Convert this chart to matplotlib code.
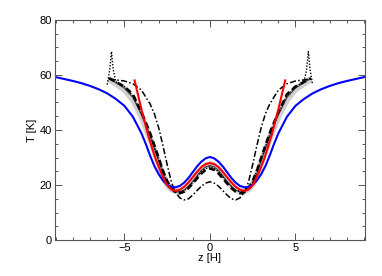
import numpy as np
import matplotlib
matplotlib.use("Agg")
import matplotlib.pyplot as plt
from matplotlib.ticker import MultipleLocator

# blue curve
z_blue = [-9, -8.5, -8, -7.5, -7, -6.5, -6, -5.5, -5, -4.5, -4, -3.75, -3.5, -3.25, -3, -2.75,
          -2.5, -2.25, -2, -1.75, -1.5, -1.25, -1, -0.75, -0.5, -0.25, 0, 0.25, 0.5, 0.75, 1,
          1.25, 1.5, 1.75, 2, 2.25, 2.5, 2.75, 3, 3.25, 3.5, 3.75, 4, 4.5, 5, 5.5, 6, 6.5, 7,
          7.5, 8, 8.5, 9]
T_blue = [59.2, 58.5, 57.8, 57.0, 56.0, 54.8, 53.3, 51.3, 48.8, 44.8, 38.8, 35.0, 30.8, 27.0,
          24.0, 21.7, 20.1, 19.3, 19.2, 19.7, 20.9, 22.6, 24.7, 26.8, 28.5, 29.7, 30.2, 29.7,
          28.5, 26.8, 24.7, 22.6, 20.9, 19.7, 19.2, 19.3, 20.1, 21.7, 24.0, 27.0, 30.8, 35.0,
          38.8, 44.8, 48.8, 51.3, 53.3, 54.8, 56.0, 57.0, 57.8, 58.5, 59.2]

# red curve
z_red = [-4.4, -4.0, -3.6, -3.2, -2.9, -2.6, -2.4, -2.2, -2.0, -1.75, -1.5, -1.25, -1.0, -0.75,
         -0.5, -0.25, 0.0, 0.25, 0.5, 0.75, 1.0, 1.25, 1.5, 1.75, 2.0, 2.2, 2.4, 2.6, 2.9, 3.2,
         3.6, 4.0, 4.4]
T_red = [58.0, 47.5, 38.0, 30.0, 25.2, 21.0, 19.2, 18.2, 17.9, 18.3, 19.4, 21.0, 22.9, 24.8,
         26.5, 27.6, 28.0, 27.6, 26.5, 24.8, 22.9, 21.0, 19.4, 18.3, 17.9, 18.2, 19.2, 21.0,
         25.2, 30.0, 38.0, 47.5, 58.0]

# black / gray curves share one z grid
z_core = [-5.9, -5.5, -5.0, -4.5, -4.0, -3.5, -3.25, -3.0, -2.75, -2.5, -2.25, -2.0, -1.75,
          -1.5, -1.25, -1.0, -0.75, -0.5, -0.25, 0.0, 0.25, 0.5, 0.75, 1.0, 1.25, 1.5, 1.75,
          2.0, 2.25, 2.5, 2.75, 3.0, 3.25, 3.5, 4.0, 4.5, 5.0, 5.5, 5.9]
T_dashed = [58.8, 57.5, 55.8, 53.0, 46.5, 39.0, 34.5, 30.0, 25.3, 21.5, 18.7, 17.3, 17.0,
            17.6, 18.9, 20.6, 22.4, 24.2, 25.5, 26.0, 25.5, 24.2, 22.4, 20.6, 18.9, 17.6, 17.0,
            17.3, 18.7, 21.5, 25.3, 30.0, 34.5, 39.0, 46.5, 53.0, 55.8, 57.5, 58.8]
T_solid = [58.8, 57.2, 55.2, 51.8, 45.5, 37.8, 33.3, 28.8, 24.2, 20.6, 18.5, 17.6, 17.5,
           18.2, 19.6, 21.4, 23.4, 25.3, 26.6, 27.1, 26.6, 25.3, 23.4, 21.4, 19.6, 18.2, 17.5,
           17.6, 18.5, 20.6, 24.2, 28.8, 33.3, 37.8, 45.5, 51.8, 55.2, 57.2, 58.8]
T_gray = [58.5, 56.8, 54.8, 51.0, 45.0, 37.0, 32.6, 28.2, 23.6, 20.2, 18.5, 17.8, 17.8,
          18.5, 19.9, 21.8, 23.8, 25.8, 27.1, 27.6, 27.1, 25.8, 23.8, 21.8, 19.9, 18.5, 17.8,
          17.8, 18.5, 20.2, 23.6, 28.2, 32.6, 37.0, 45.0, 51.0, 54.8, 56.8, 58.5]
T_dashdot = [58.5, 58.2, 57.8, 56.8, 54.5, 49.5, 46.0, 41.0, 34.5, 27.5, 21.0, 17.2, 15.3,
             14.6, 15.0, 16.4, 18.0, 19.6, 20.7, 21.2, 20.7, 19.6, 18.0, 16.4, 15.0, 14.6, 15.3,
             17.2, 21.0, 27.5, 34.5, 41.0, 46.0, 49.5, 54.5, 56.8, 57.8, 58.2, 58.5]

# dotted curve with the spikes near the edges
z_dot = [-6.0, -5.85, -5.75, -5.65, -5.5, -5.0, -4.5, -4.0, -3.5, -3.0, -2.5, -2.0, -1.5,
         -1.0, -0.5, 0.0, 0.5, 1.0, 1.5, 2.0, 2.5, 3.0, 3.5, 4.0, 4.5, 5.0, 5.5, 5.65, 5.75,
         5.85, 6.0]
T_dot = [56.5, 62.0, 68.5, 62.0, 57.5, 55.8, 52.5, 46.0, 38.5, 29.5, 21.2, 17.5, 18.0, 21.0,
         25.0, 26.8, 25.0, 21.0, 18.0, 17.5, 21.2, 29.5, 38.5, 46.0, 52.5, 55.8, 57.5, 62.0,
         68.5, 62.0, 56.5]

plt.rcParams['font.family'] = ['Liberation Sans', 'DejaVu Sans']

fig = plt.figure(figsize=(3.82, 2.76), dpi=100)
ax = fig.add_axes([0.144, 0.130, 0.811, 0.798])

ax.plot(z_core, T_gray, color='#cfcfcf', lw=4.5, solid_capstyle='butt')
ax.plot(z_core, T_solid, color='#404040', lw=0.8)
ax.plot(z_dot, T_dot, color='black', lw=1.0, ls=(0, (1, 1.2)))
ax.plot(z_core, T_dashed, color='black', lw=1.8, ls=(0, (2.5, 1.5)))
ax.plot(z_core, T_dashdot, color='black', lw=1.1, ls=(0, (4, 1.5, 1, 1.5)))
ax.plot(z_blue, T_blue, color='#0000ff', lw=1.5)
ax.plot(z_red, T_red, color='#ff0000', lw=1.5)

ax.set_xlim(-9.05, 9.05)
ax.set_ylim(0, 80)
ax.xaxis.set_major_locator(MultipleLocator(5))
ax.xaxis.set_minor_locator(MultipleLocator(1))
ax.yaxis.set_major_locator(MultipleLocator(20))
ax.yaxis.set_minor_locator(MultipleLocator(5))
ax.tick_params(which='both', direction='in', top=True, right=True, color='#555555',
               labelsize=8, width=0.7)
ax.tick_params(which='major', length=5, pad=2)
ax.tick_params(which='minor', length=2.5)
for s in ax.spines.values():
    s.set_color('#555555')
    s.set_linewidth(0.8)

ax.set_xlabel('z [H]', fontsize=8, labelpad=0)
ax.set_ylabel('T [K]', fontsize=8, labelpad=2)

fig.savefig('out.png', dpi=100)
